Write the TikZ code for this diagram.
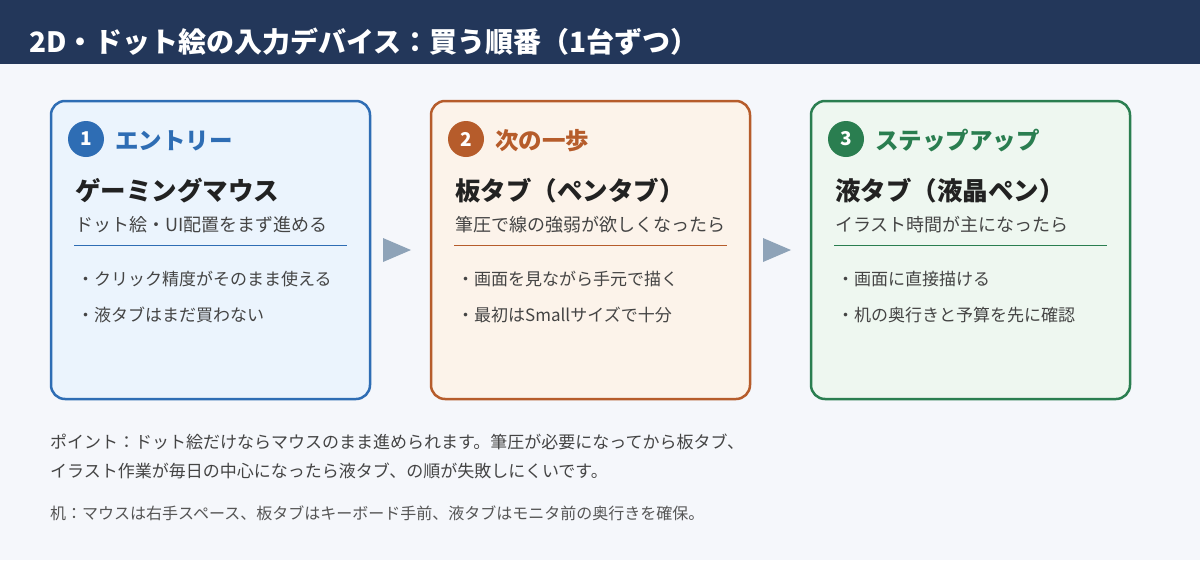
\documentclass[tikz,border=0pt]{standalone}
\usepackage{fontspec}
\setmainfont{Noto Sans CJK JP}
\usetikzlibrary{positioning}
\definecolor{headbg}{HTML}{23375A}
\definecolor{pagebg}{HTML}{F5F7FB}
\definecolor{bluec}{HTML}{2E6DB4}
\definecolor{bluefill}{HTML}{EBF4FD}
\definecolor{orangec}{HTML}{B65C2B}
\definecolor{orangefill}{HTML}{FCF3EA}
\definecolor{greenc}{HTML}{2A7E50}
\definecolor{greenfill}{HTML}{EEF7F0}
\definecolor{arrowc}{HTML}{8EA3B8}
\definecolor{darktext}{HTML}{222222}
\definecolor{graytext}{HTML}{444444}
\definecolor{lighttext}{HTML}{555555}

\begin{document}
\begin{tikzpicture}[x=1pt, y=-1pt]
            \tikzstyle{card} = [draw, line width=2.5pt, rounded corners=14pt, minimum width=319pt, minimum height=298pt, inner sep=0pt, outer sep=0pt]
            \tikzstyle{num} = [circle, minimum size=36pt, inner sep=0pt, text=white, font=\fontsize{19}{22}\selectfont\bfseries]
            \tikzstyle{stagelabel} = [anchor=west, inner sep=0pt, font=\fontsize{23.5}{27}\selectfont\bfseries]
            \tikzstyle{cardtitle} = [anchor=west, inner sep=0pt, text=darktext, font=\fontsize{25.5}{30}\selectfont\bfseries]
            \tikzstyle{cardsub} = [anchor=west, inner sep=0pt, text=graytext, font=\fontsize{18}{22}\selectfont]
            \tikzstyle{bullet} = [anchor=west, inner sep=0pt, text=graytext, font=\fontsize{17}{20}\selectfont]
            \tikzstyle{note} = [anchor=west, inner sep=0pt, text=graytext, font=\fontsize{17}{20}\selectfont]
            \tikzstyle{flow} = [fill=arrowc]

            \useasboundingbox (0, 0) rectangle (1200, 560);
            \fill [pagebg] (0, 0) rectangle (1200, 560);
            \fill [headbg] (0, 0) rectangle (1200, 64);
            \node (title) [anchor=west, inner sep=0pt, text=white, font=\fontsize{28}{32}\selectfont\bfseries] at (29, 42) {2D・ドット絵の入力デバイス：買う順番（1台ずつ）};

            % cards
            \node (c1) [card, draw=bluec, fill=bluefill] at (210.5, 250) {};
            \node (c2) [card, draw=orangec, fill=orangefill, right=61pt of c1] {};
            \node (c3) [card, draw=greenc, fill=greenfill, right=61pt of c2] {};

            % card 1
            \node (n1) [num, fill=bluec] at ([xshift=35pt, yshift=-38pt]c1.north west) {1};
            \node (s1) [stagelabel, text=bluec] at ([xshift=64pt, yshift=-40pt]c1.north west) {エントリー};
            \node (t1) [cardtitle] at ([xshift=24pt, yshift=-90pt]c1.north west) {ゲーミングマウス};
            \node (u1) [cardsub] at ([xshift=24pt, yshift=-124pt]c1.north west) {ドット絵・UI配置をまず進める};
            \coordinate (r1a) at ([xshift=23pt, yshift=-144pt]c1.north west);
            \coordinate (r1b) at ([xshift=-23pt, yshift=-144pt]c1.north east);
            \draw [bluec, line width=1pt] (r1a) -- (r1b);
            \node (b1a) [bullet] at ([xshift=26pt, yshift=-178pt]c1.north west) {・クリック精度がそのまま使える};
            \node (b1b) [bullet] at ([xshift=26pt, yshift=-214pt]c1.north west) {・液タブはまだ買わない};

            % card 2
            \node (n2) [num, fill=orangec] at ([xshift=35pt, yshift=-38pt]c2.north west) {2};
            \node (s2) [stagelabel, text=orangec] at ([xshift=64pt, yshift=-40pt]c2.north west) {次の一歩};
            \node (t2) [cardtitle] at ([xshift=24pt, yshift=-90pt]c2.north west) {板タブ（ペンタブ）};
            \node (u2) [cardsub] at ([xshift=24pt, yshift=-124pt]c2.north west) {筆圧で線の強弱が欲しくなったら};
            \coordinate (r2a) at ([xshift=23pt, yshift=-144pt]c2.north west);
            \coordinate (r2b) at ([xshift=-23pt, yshift=-144pt]c2.north east);
            \draw [orangec, line width=1pt] (r2a) -- (r2b);
            \node (b2a) [bullet] at ([xshift=26pt, yshift=-178pt]c2.north west) {・画面を見ながら手元で描く};
            \node (b2b) [bullet] at ([xshift=26pt, yshift=-214pt]c2.north west) {・最初はSmallサイズで十分};

            % card 3
            \node (n3) [num, fill=greenc] at ([xshift=35pt, yshift=-38pt]c3.north west) {3};
            \node (s3) [stagelabel, text=greenc] at ([xshift=64pt, yshift=-40pt]c3.north west) {ステップアップ};
            \node (t3) [cardtitle] at ([xshift=24pt, yshift=-90pt]c3.north west) {液タブ（液晶ペン）};
            \node (u3) [cardsub] at ([xshift=24pt, yshift=-124pt]c3.north west) {イラスト時間が主になったら};
            \coordinate (r3a) at ([xshift=23pt, yshift=-144pt]c3.north west);
            \coordinate (r3b) at ([xshift=-23pt, yshift=-144pt]c3.north east);
            \draw [greenc, line width=1pt] (r3a) -- (r3b);
            \node (b3a) [bullet] at ([xshift=26pt, yshift=-178pt]c3.north west) {・画面に直接描ける};
            \node (b3b) [bullet] at ([xshift=26pt, yshift=-214pt]c3.north west) {・机の奥行きと予算を先に確認};

            % arrows between cards
            \fill [flow] ([xshift=13pt, yshift=12pt]c1.east) -- ([xshift=41pt]c1.east) -- ([xshift=13pt, yshift=-12pt]c1.east) -- cycle;
            \fill [flow] ([xshift=13pt, yshift=12pt]c2.east) -- ([xshift=41pt]c2.east) -- ([xshift=13pt, yshift=-12pt]c2.east) -- cycle;

            % notes
            \node (p1) [note] at (50, 442) {ポイント：ドット絵だけならマウスのまま進められます。筆圧が必要になってから板タブ、};
            \node (p2) [note] at (50, 471) {イラスト作業が毎日の中心になったら液タブ、の順が失敗しにくいです。};
            \node (p3) [note, text=lighttext, font=\fontsize{16}{19}\selectfont] at (50, 513) {机：マウスは右手スペース、板タブはキーボード手前、液タブはモニタ前の奥行きを確保。};

        \end{tikzpicture}
\end{document}
